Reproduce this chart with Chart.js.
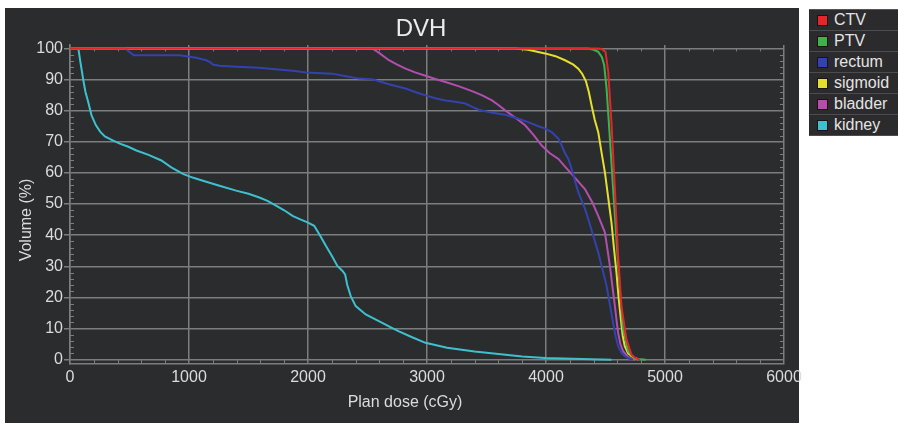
<!DOCTYPE html>
<html>
<head>
<meta charset="utf-8">
<title>DVH</title>
<script src="https://cdn.jsdelivr.net/npm/chart.js@4.4.0/dist/chart.umd.min.js"></script>
<style>
  html, body { margin: 0; padding: 0; background: #fff; }
  #wrap { position: relative; width: 898px; height: 423px; overflow: hidden; }
  #dvh { position: absolute; left: 0; top: 0; }
  #legend { position: absolute; left: 809px; top: 9px; width: 95px; background: #2b2b2d; border-top: 1px solid #555; }
  .row { height: 20px; border-bottom: 1px solid #4c4c4e; display: flex; align-items: center;
         font: 16px "Liberation Sans", Arial, sans-serif; color: #e4e4e4; }
  .sw { width: 9px; height: 9px; border: 1px solid #151515; margin: 0 6px 0 8px; }
</style>
</head>
<body>
<div id="wrap">
  <canvas id="dvh" width="898" height="423"></canvas>
  <div id="legend"></div>
</div>
<script>
// structures, in legend order (first one is drawn on top)
const structures = ['CTV', 'PTV', 'rectum', 'sigmoid', 'bladder', 'kidney'];
const structureColors = ['#e4252b', '#3db34a', '#3442ad', '#e6e02a', '#b14fae', '#3ec1cf'];

// cumulative DVH: dose (cGy) / volume (%)
const ctvDose = [0, 4440, 4467, 4500, 4523, 4550, 4579, 4606, 4634, 4676, 4718, 4760, 4790];
const ctvVolume = [100, 100, 99.8, 98.9, 92.5, 76.3, 54.8, 33.3, 17.2, 6.5, 1.6, 0.3, 0];

const ptvDose = [0, 4355, 4400, 4439, 4470, 4489, 4509, 4537, 4564, 4592, 4620, 4648, 4690, 4740, 4774, 4840];
const ptvVolume = [100, 100, 99.6, 98.9, 97.2, 94.6, 87.1, 71, 54.8, 38.7, 22.6, 9.7, 2.7, 0.6, 0.2, 0];

const rectumDose = [0, 461, 536, 921, 1061, 1145, 1180, 1200, 1256, 1400, 1591, 1750, 1870, 1982, 2205, 2330,
  2429, 2540, 2680, 2820, 2900, 2987, 3070, 3155, 3250, 3323, 3380, 3434, 3550, 3657, 3769, 3850, 3936,
  3990, 4048, 4104, 4132, 4160, 4188, 4215, 4271, 4327, 4355, 4397, 4439, 4475, 4509, 4540, 4564, 4585,
  4606, 4635, 4662, 4700, 4730];
const rectumVolume = [100, 100, 97.8, 97.8, 97, 96.2, 95.5, 94.8, 94.4, 94.1, 93.8, 93.2, 92.8, 92.3, 91.9, 91,
  90.3, 90.1, 88.5, 87.1, 86, 84.9, 84, 83.3, 82.8, 82.3, 81.2, 80.3, 79.3, 78.7, 77.4, 76.3, 75,
  74.3, 73.1, 71, 68.8, 66.3, 64.5, 61.3, 53.8, 48.5, 45.2, 39.8, 34.4, 29, 23.7, 17, 11.8, 7.5,
  4.3, 2.2, 1.1, 0.3, 0];

const sigmoidDose = [0, 3741, 3850, 3992, 4080, 4160, 4230, 4271, 4305, 4335, 4360, 4383, 4410, 4439, 4467,
  4495, 4523, 4550, 4572, 4592, 4610, 4629, 4645, 4662, 4690, 4718, 4774];
const sigmoidVolume = [100, 100, 99.6, 98.4, 97.5, 96.2, 94.8, 93.5, 91.8, 89.5, 86, 81.7, 77, 73.1, 66.5,
  60.2, 52, 44.1, 35.5, 28, 20, 12.9, 7.5, 4.3, 2, 1.1, 0];

const bladderDose = [0, 2540, 2600, 2680, 2750, 2820, 2900, 2987, 3070, 3155, 3270, 3378, 3460, 3546, 3600,
  3657, 3740, 3825, 3900, 3964, 4030, 4104, 4160, 4215, 4270, 4327, 4390, 4439, 4495, 4537, 4560, 4579,
  4595, 4606, 4625, 4648, 4690, 4718, 4750];
const bladderVolume = [100, 100, 98.5, 96.2, 94.8, 93.5, 92.3, 91.2, 90.2, 89.2, 87.8, 86.3, 85, 83.3, 81.8,
  80.1, 77.8, 75.3, 72, 68.8, 66.4, 64.5, 62, 59.7, 57.3, 54.8, 50.5, 46.2, 40.9, 30.1, 23, 17.2,
  12, 8.6, 5, 2.7, 0.8, 0.2, 0];

const kidneyDose = [0, 70, 90, 111, 130, 153, 181, 218, 255, 293, 350, 419, 490, 558, 660, 768, 851, 949, 1030,
  1117, 1256, 1396, 1500, 1591, 1660, 1731, 1800, 1870, 1940, 1996, 2052, 2100, 2150, 2200, 2247, 2290,
  2312, 2330, 2359, 2401, 2485, 2624, 2700, 2764, 2875, 2987, 3169, 3400, 3601, 3800, 3992, 4300, 4550];
const kidneyVolume = [100, 100, 95, 90, 86, 82.8, 78.5, 75.3, 73.2, 71.7, 70.6, 69.4, 68.4, 67.2, 65.8, 64, 61.8, 59.7, 58.5,
  57.5, 55.9, 54.3, 53.3, 52.1, 51, 49.5, 48, 46.2, 45, 44.1, 43, 40, 36.6, 33.4, 30.1, 28.5,
  27.4, 24, 20.4, 17.2, 14.5, 11.8, 10.3, 9.1, 7.2, 5.4, 3.8, 2.6, 1.8, 1, 0.5, 0.2, 0];

const doseTicks = [0, 1000, 2000, 3000, 4000, 5000, 6000];
const volumeTicks = [0, 10, 20, 30, 40, 50, 60, 70, 80, 90, 100];
const doseMinorStep = 200;
const volumeMinorStep = 2;

const doses = [ctvDose, ptvDose, rectumDose, sigmoidDose, bladderDose, kidneyDose];
const volumes = [ctvVolume, ptvVolume, rectumVolume, sigmoidVolume, bladderVolume, kidneyVolume];

const FONT = '"Liberation Sans", Arial, sans-serif';
const gridColor = '#7c7d7f';
const textColor = '#dcdcdc';

// dark panel behind the plot
const panel = {
  id: 'panel',
  beforeDraw(chart) {
    const ctx = chart.ctx;
    ctx.save();
    ctx.fillStyle = '#2b2c2e';
    ctx.fillRect(5, 8, 794, 415);
    ctx.restore();
  }
};

// small ticks between the labelled ones, on all four sides
const minorTicks = {
  id: 'minorTicks',
  beforeDatasetsDraw(chart) {
    const { ctx, scales: { x, y } } = chart;
    const top = y.getPixelForValue(100);
    ctx.save();
    ctx.strokeStyle = gridColor;
    ctx.lineWidth = 1;
    ctx.beginPath();
    for (let d = doseMinorStep; d < 6000; d += doseMinorStep) {
      if (d % 1000 === 0) continue;
      const px = Math.round(x.getPixelForValue(d)) + 0.5;
      ctx.moveTo(px, y.bottom);
      ctx.lineTo(px, y.bottom - 4);
      ctx.moveTo(px, top);
      ctx.lineTo(px, top + 3);
    }
    for (let v = volumeMinorStep; v < 100; v += volumeMinorStep) {
      if (v % 10 === 0) continue;
      const py = Math.round(y.getPixelForValue(v)) + 0.5;
      ctx.moveTo(x.left, py);
      ctx.lineTo(x.left + 4, py);
      ctx.moveTo(x.right, py);
      ctx.lineTo(x.right - 4, py);
    }
    ctx.stroke();
    ctx.restore();
  }
};

// title and axis titles, centred on the panel like the original
const panelText = {
  id: 'panelText',
  afterDraw(chart) {
    const ctx = chart.ctx;
    ctx.save();
    ctx.fillStyle = '#ececec';
    ctx.textAlign = 'center';
    ctx.textBaseline = 'alphabetic';
    ctx.font = '24px ' + FONT;
    ctx.fillText('DVH', 421, 36);
    ctx.fillStyle = textColor;
    ctx.font = '16px ' + FONT;
    ctx.fillText('Plan dose (cGy)', 405, 407);
    ctx.translate(31, 220);
    ctx.rotate(-Math.PI / 2);
    ctx.fillText('Volume (%)', 0, 0);
    ctx.restore();
  }
};

const datasets = structures.map((name, i) => ({
  label: name,
  data: doses[i].map((d, j) => ({ x: d, y: volumes[i][j] })),
  borderColor: structureColors[i],
  backgroundColor: structureColors[i],
  borderWidth: 2,
  pointRadius: 0,
  tension: 0,
  fill: false
}));

new Chart(document.getElementById('dvh'), {
  type: 'line',
  data: { datasets },
  options: {
    responsive: false,
    animation: false,
    layout: { padding: { top: 45, right: 114, left: 0, bottom: 0 } },
    plugins: {
      legend: { display: false },
      title: { display: false },
      tooltip: { enabled: false }
    },
    scales: {
      x: {
        type: 'linear',
        min: 0,
        max: 6000,
        afterBuildTicks: (scale) => { scale.ticks = doseTicks.map(v => ({ value: v })); },
        afterFit: (scale) => { scale.height = 59; },
        grid: { color: gridColor, lineWidth: 1.5, drawTicks: false },
        border: { color: gridColor, width: 1.5 },
        ticks: {
          color: textColor, font: { family: FONT, size: 16 }, padding: 4, maxRotation: 0,
          callback: (v) => String(v)
        }
      },
      y: {
        min: -1.4,
        max: 101.1,
        afterBuildTicks: (scale) => { scale.ticks = volumeTicks.map(v => ({ value: v })); },
        afterFit: (scale) => { scale.width = 70; },
        grid: { color: gridColor, lineWidth: 1.5, drawTicks: true, tickLength: 6 },
        border: { color: gridColor, width: 1.5 },
        ticks: {
          color: textColor, font: { family: FONT, size: 16 }, padding: 1,
          callback: (v) => String(v)
        }
      }
    }
  },
  plugins: [panel, minorTicks, panelText]
});

// legend box to the right of the panel
const legend = document.getElementById('legend');
structures.forEach((name, i) => {
  const row = document.createElement('div');
  row.className = 'row';
  const sw = document.createElement('span');
  sw.className = 'sw';
  sw.style.background = structureColors[i];
  row.appendChild(sw);
  row.appendChild(document.createTextNode(name));
  legend.appendChild(row);
});
</script>
</body>
</html>
